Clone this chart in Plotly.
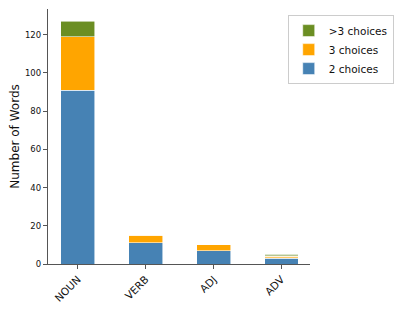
import plotly.graph_objects as go

categories = ["NOUN", "VERB", "ADJ", "ADV"]
two_choices = [91, 11, 7, 3]
three_choices = [28, 4, 3, 1]
more_choices = [8, 0, 0, 1]
series_names = ["2 choices", "3 choices", ">3 choices"]
y_ticks = [0, 20, 40, 60, 80, 100, 120]

blue = "#4682B4"
orange = "#FFA500"
green = "#6B8E23"
# thin ADV segments look paler in the reference
orange_cols = [orange, orange, orange, "rgba(255,165,0,0.6)"]
green_cols = [green, green, green, "rgba(107,142,35,0.5)"]

edge = dict(color="rgba(255,255,255,0.7)", width=0.8)
fig = go.Figure()
fig.add_trace(go.Bar(x=categories, y=two_choices, name=series_names[0],
                     marker=dict(color=blue, line=edge), width=0.5))
fig.add_trace(go.Bar(x=categories, y=three_choices, name=series_names[1],
                     marker=dict(color=orange_cols, line=edge), width=0.5))
fig.add_trace(go.Bar(x=categories, y=more_choices, name=series_names[2],
                     marker=dict(color=green_cols, line=edge), width=0.5))

axis_col = "#555555"
# page body adds an 8px margin, so the figure is sized/offset to compensate
fig.update_layout(
    barmode="stack",
    width=399, height=295,
    margin=dict(l=40, r=97, t=1, b=39, autoexpand=False),
    plot_bgcolor="white", paper_bgcolor="white",
    font=dict(family="DejaVu Sans", size=9, color="#111"),
    showlegend=True,
    legend=dict(x=0.915, y=0.976, xanchor="left", yanchor="top",
                traceorder="reversed", bordercolor="#cccccc", borderwidth=1,
                font=dict(size=10.5, family="DejaVu Sans", color="#111"),
                bgcolor="white", itemwidth=30, tracegroupgap=0),
    xaxis=dict(range=[-0.44, 3.42], showline=True, linecolor=axis_col, linewidth=1.3,
               ticks="outside", ticklen=4, tickcolor=axis_col, tickangle=-45,
               tickfont=dict(size=10.5), showgrid=False, zeroline=False, automargin=False),
    yaxis=dict(range=[0, 133.4], tickvals=y_ticks, showline=True, linecolor=axis_col,
               linewidth=1.3, ticks="outside", ticklen=4, tickcolor=axis_col,
               showgrid=False, zeroline=False, tickfont=dict(size=8.5), automargin=False,
               title=dict(text="Number of Words", font=dict(size=12), standoff=7)),
)

fig.write_html("out.html")
